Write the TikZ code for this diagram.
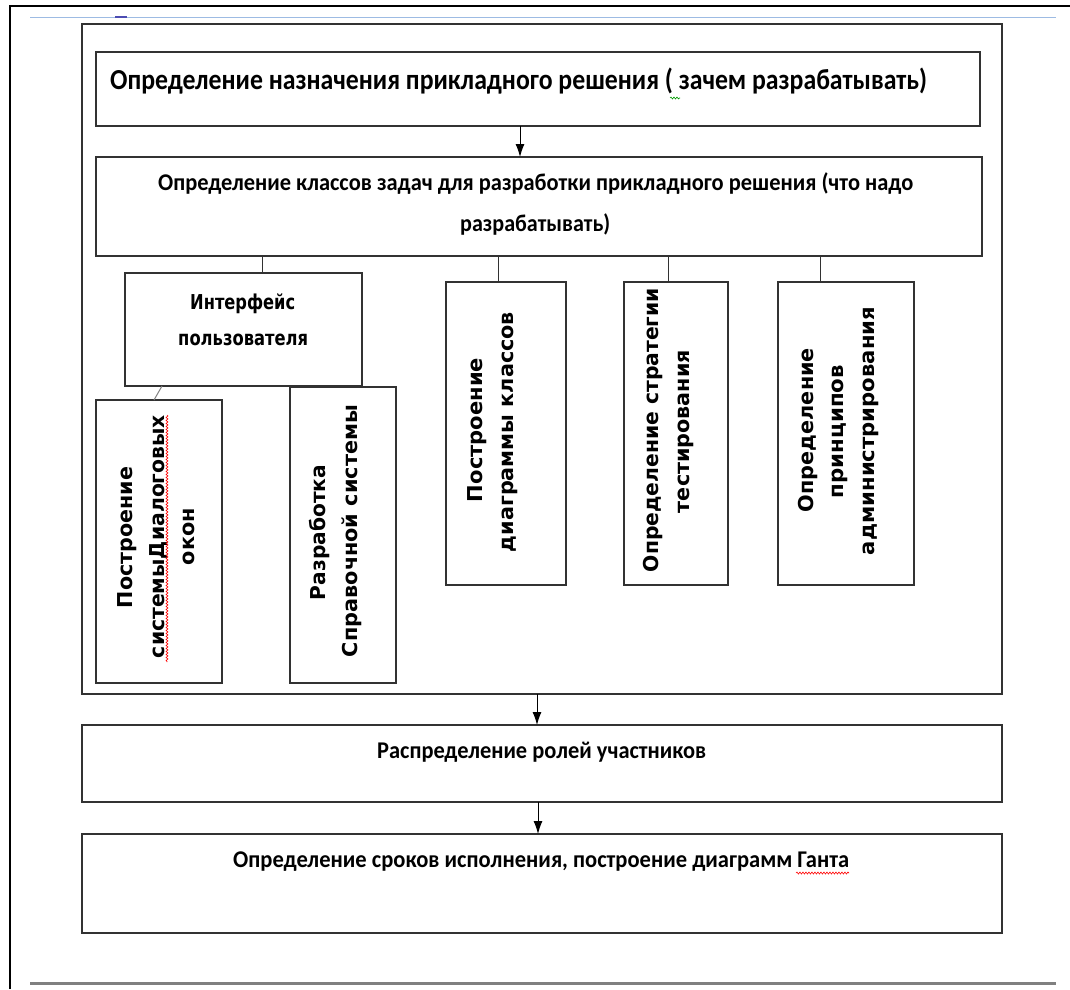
\documentclass[tikz,border=0pt]{standalone}
\usepackage{fontspec}
\usepackage{graphicx}
\usetikzlibrary{arrows.meta,decorations.pathmorphing,calc}
\newfontfamily\carl{Carlito}
\newfontfamily\dvs{DejaVu Sans}
\newcommand{\fitw}[2]{\resizebox{#1}{\height}{#2}}
\newcommand{\hfnt}{\carl\bfseries\fontsize{29}{34}\selectfont}
\newcommand{\mfnt}{\carl\bfseries\fontsize{24}{28}\selectfont}
\newcommand{\vfnt}{\dvs\bfseries\fontsize{20.5}{24}\selectfont}
\definecolor{boxc}{RGB}{50,50,50}
\definecolor{rulebl}{RGB}{157,187,227}
\tikzset{
  box/.style={draw=boxc, line width=1.6pt, inner sep=0pt, outer sep=0pt, anchor=north west},
  conn/.style={draw=boxc, line width=1pt},
  arr/.style={draw=black, line width=1pt, -{Latex[length=13pt,width=9pt]}},
  htxt/.style={inner sep=0pt, anchor=base west},
  rtxt/.style={inner sep=0pt, anchor=base, rotate=90},
  squig/.style={draw=red, line width=0.6pt, decorate, decoration={snake, amplitude=1pt, segment length=3pt}},
}
\begin{document}
\begin{tikzpicture}[x=1pt,y=-1pt]
\useasboundingbox (0,0) rectangle (1070,989);
% page rules
\draw[line width=2.5pt] (10,989) -- (10,6) -- (1070,6);
\draw[rulebl, line width=1.5pt] (30,17.3) -- (1056,17.3);
\draw[gray!60!blue, line width=2pt] (115,17.3) -- (127,17.3);
\draw[gray, line width=3pt] (30,983) -- (1056,983);

% boxes
\node[box, minimum width=920pt, minimum height=670pt] (outer) at (82,24) {};
\node[box, minimum width=884pt, minimum height=74pt] (b1) at (96,52) {};
\node[box, minimum width=886pt, minimum height=99pt] (b2) at (96,157) {};
\node[box, minimum width=237pt, minimum height=113pt] (ui) at (125,273) {};
\node[box, minimum width=126pt, minimum height=283pt] (dlg) at (96,400) {};
\node[box, minimum width=106pt, minimum height=296pt] (hlp) at (290,387) {};
\node[box, minimum width=120pt, minimum height=303pt] (cls) at (446,282) {};
\node[box, minimum width=104pt, minimum height=303pt] (tst) at (624,282) {};
\node[box, minimum width=136pt, minimum height=303pt] (adm) at (778,282) {};
\node[box, minimum width=920pt, minimum height=77pt] (roles) at (82,725) {};
\node[box, minimum width=920pt, minimum height=99pt] (gantt) at (82,834) {};

% connectors
\draw[arr] ([xshift=424pt]b1.south west) -- ([xshift=424pt]b2.north west);
\draw[arr] ([xshift=455pt]outer.south west) -- ([xshift=455pt]roles.north west);
\draw[arr] ([xshift=456pt]roles.south west) -- ([xshift=456pt]gantt.north west);
\draw[conn] ([xshift=137pt]ui.north west) -- ([xshift=137pt]ui.north west |- b2.south);
\draw[conn] ([xshift=52pt]cls.north west) -- ([xshift=52pt]cls.north west |- b2.south);
\draw[conn] ([xshift=44pt]tst.north west) -- ([xshift=44pt]tst.north west |- b2.south);
\draw[conn] ([xshift=42pt]adm.north west) -- ([xshift=42pt]adm.north west |- b2.south);
\draw[conn, draw=gray] ([xshift=37pt]ui.south west) -- ([xshift=58pt]dlg.north west);

% horizontal texts
\node[htxt] (t1) at (110,89) {\fitw{817pt}{\hfnt Определение назначения прикладного решения ( зачем разрабатывать)}};
\node[htxt] (t2a) at (158,190) {\fitw{755pt}{\mfnt Определение классов задач для разработки прикладного решения (что надо}};
\node[htxt] (t2b) at (460,231) {\fitw{150pt}{\mfnt разрабатывать)}};
\node[htxt] (tuia) at (190,309) {\fitw{105pt}{\vfnt Интерфейс}};
\node[htxt] (tuib) at (178,345) {\fitw{130pt}{\vfnt пользователя}};
\node[htxt] (troles) at (377,758) {\fitw{329pt}{\mfnt Распределение ролей участников}};
\node[htxt] (tgantt) at (233,867) {\fitw{616pt}{\mfnt Определение сроков исполнения, построение диаграмм Ганта}};

% rotated texts
\node[rtxt] (d1) at (132,537.5) {\fitw{141pt}{\vfnt Построение}};
\node[rtxt] (d2) at (164,536.5) {\fitw{243pt}{\vfnt системыДиалоговых}};
\node[rtxt] (d3) at (194,536.5) {\fitw{57pt}{\vfnt окон}};
\node[rtxt] (h1) at (325,532.5) {\fitw{135pt}{\vfnt Разработка}};
\node[rtxt] (h2) at (357,531) {\fitw{252pt}{\vfnt Справочной системы}};
\node[rtxt] (c1) at (482,430) {\fitw{144pt}{\vfnt Построение}};
\node[rtxt] (c2) at (513,432) {\fitw{240pt}{\vfnt диаграммы классов}};
\node[rtxt] (s1) at (658,430) {\fitw{284pt}{\vfnt Определение стратегии}};
\node[rtxt] (s2) at (689,431.5) {\fitw{163pt}{\vfnt тестирования}};
\node[rtxt] (a1) at (813,430) {\fitw{164pt}{\vfnt Определение}};
\node[rtxt] (a2) at (843,431.5) {\fitw{133pt}{\vfnt принципов}};
\node[rtxt] (a3) at (874,431) {\fitw{248pt}{\vfnt администрирования}};

% spell-check squiggles
\draw[squig] (167,415) -- (167,662);
\draw[squig] (796,873) -- (849,873);
\draw[squig, draw=green!60!black] (670,98) -- (680,98);
\end{tikzpicture}
\end{document}
